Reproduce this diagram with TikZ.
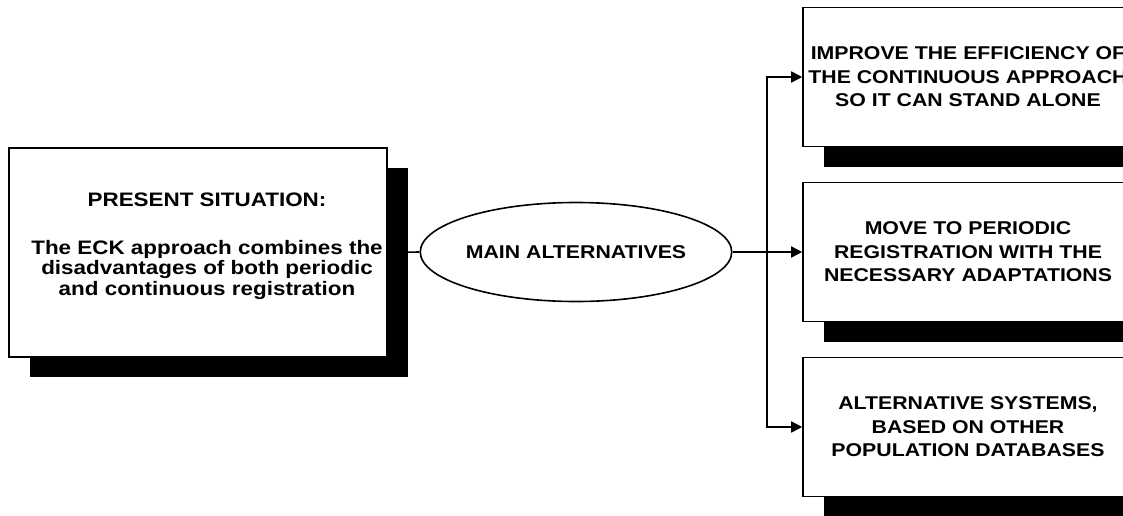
\documentclass[tikz,border=0pt]{standalone}
\usepackage{fontspec}
\setmainfont{Liberation Sans}[FakeStretch=1.15]
\usepackage{tikz}
\usetikzlibrary{shapes.geometric, shadows, arrows.meta}

\begin{document}
\begin{tikzpicture}[x=1pt, y=-1pt, line width=1.6pt,
  font=\fontsize{18.5}{23.5}\selectfont\bfseries,
  box/.style={draw, fill=white, align=center, inner sep=0pt,
    drop shadow={shadow xshift=21pt, shadow yshift=-20pt, fill=black, opacity=1}},
  arr/.style={-{Triangle[length=11pt, width=11pt]}}]
\clip (0, 0) rectangle (1123, 516); % page is cut at the right edge
\node [box, minimum width=378pt, minimum height=209pt] (present) at (198, 252.5) {};
\node [align=center, font=\fontsize{19.5}{20.5}\selectfont\bfseries] (presenttxt) at (207, 246.5)
  {PRESENT SITUATION:\\[27pt] The ECK approach combines the\\ disadvantages of both periodic\\ and continuous registration};
\node [draw, ellipse, minimum width=303pt, minimum height=99pt, inner sep=0pt] (alt) at (576, 252) {MAIN ALTERNATIVES};
\node [box, minimum width=330pt, minimum height=139pt] (opt1) at (968, 77)
  {IMPROVE THE EFFICIENCY OF\\ THE CONTINUOUS APPROACH\\ SO IT CAN STAND ALONE};
\node [box, minimum width=330pt, minimum height=139pt] (opt2) at (968, 252)
  {MOVE TO PERIODIC\\ REGISTRATION WITH THE\\ NECESSARY ADAPTATIONS};
\node [box, minimum width=330pt, minimum height=139pt] (opt3) at (968, 427)
  {ALTERNATIVE SYSTEMS,\\ BASED ON OTHER\\ POPULATION DATABASES};
\coordinate (fork) at (767, 252);
\draw (present.east) -- (alt.west);
\draw [arr] (alt.east) -- (opt2.west);
\draw [arr] (fork) |- (opt1.west);
\draw [arr] (fork) |- (opt3.west);
\end{tikzpicture}
\end{document}
